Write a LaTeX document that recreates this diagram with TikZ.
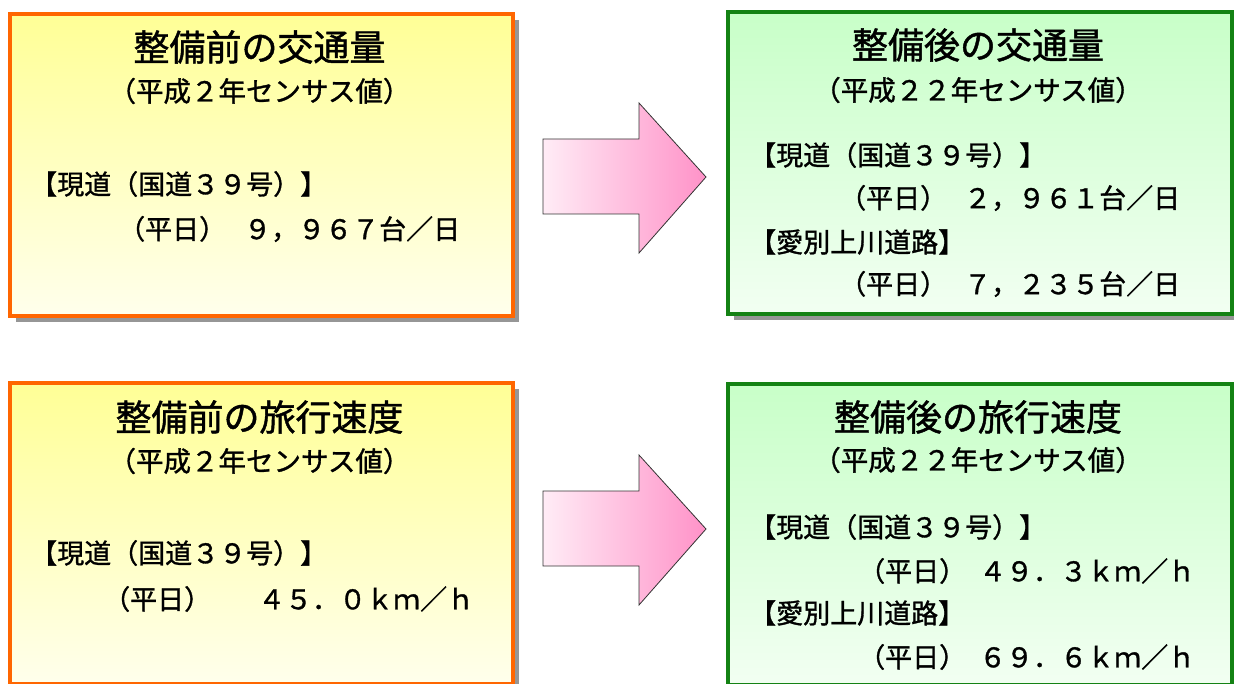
\documentclass[tikz,border=0pt]{standalone}
\usepackage{fontspec}
\setmainfont{Noto Sans CJK JP}[BoldFont=Noto Sans CJK JP, BoldFeatures={FakeBold=1.2}]
\usetikzlibrary{shadows}
\definecolor{borange}{RGB}{255,102,0}
\definecolor{bgreen}{RGB}{20,130,20}
\definecolor{yelltop}{RGB}{255,255,150}
\definecolor{yellbot}{RGB}{255,255,236}
\definecolor{greentop}{RGB}{200,255,200}
\definecolor{greenbot}{RGB}{242,255,242}
\definecolor{pinkL}{RGB}{255,236,246}
\definecolor{pinkR}{RGB}{255,146,200}
\definecolor{shadowgray}{RGB}{150,150,150}
\begin{document}
\begin{tikzpicture}[x=1pt,y=-1pt,
  box/.style={rectangle, line width=4pt, inner sep=0pt, anchor=north west,
    drop shadow={shadow xshift=6pt, shadow yshift=-6pt, fill=shadowgray, opacity=1}},
  beforebox/.style={box, draw=borange, top color=yelltop, bottom color=yellbot},
  afterbox/.style={box, draw=bgreen, top color=greentop, bottom color=greenbot},
  title/.style={inner sep=0pt, anchor=center, font=\fontsize{36}{40}\selectfont\bfseries},
  subtitle/.style={inner sep=0pt, anchor=center, font=\fontsize{27.5}{32}\selectfont\bfseries},
  body/.style={inner sep=0pt, anchor=west, font=\fontsize{27}{32}\selectfont\bfseries},
  blockarrow/.style={draw=black!80, line width=0.8pt, line join=miter, left color=pinkL, right color=pinkR}]
\useasboundingbox (0,0) rectangle (1234,684);

% boxes
\node[beforebox, minimum width=503pt, minimum height=302pt] (b1) at (8,12) {};
\node[afterbox, minimum width=504pt, minimum height=302pt] (b2) at (726,10) {};
\node[beforebox, minimum width=503pt, minimum height=301pt] (b3) at (8,381) {};
\node[afterbox, minimum width=504pt, minimum height=301pt] (b4) at (726,382) {};

% arrows
\path[blockarrow] (543,139) -- (639,139) -- (639,103) -- (706,177) -- (639,253) -- (639,214) -- (543,214) -- cycle;
\path[blockarrow] (543,491) -- (639,491) -- (639,455) -- (706,529) -- (639,605) -- (639,566) -- (543,566) -- cycle;

% box 1
\node[title] (t1) at (259.5,47) {整備前の交通量};
\node[subtitle] (s1) at (259.5,91) {（平成２年センサス値）};
\node[body] (r1) at (30,184) {【現道（国道３９号）】};
\node[body] (v1) at (118,229) {（平日）\hspace{18pt}９，９６７台／日};

% box 2
\node[title] (t2) at (978,45) {整備後の交通量};
\node[subtitle] (s2) at (978,90) {（平成２２年センサス値）};
\node[body] (r2) at (749,155) {【現道（国道３９号）】};
\node[body] (v2) at (839,198) {（平日）\hspace{17pt}２，９６１台／日};
\node[body] (r2b) at (749,242) {【愛別上川道路】};
\node[body] (v2b) at (839,284) {（平日）\hspace{17pt}７，２３５台／日};

% box 3
\node[title] (t3) at (259.5,417) {整備前の旅行速度};
\node[subtitle] (s3) at (259.5,461) {（平成２年センサス値）};
\node[body] (r3) at (30,553) {【現道（国道３９号）】};
\node[body] (v3) at (103,599) {（平日）\hspace{47pt}４５．０ｋｍ／ｈ};

% box 4
\node[title] (t4) at (978,417) {整備後の旅行速度};
\node[subtitle] (s4) at (978,460) {（平成２２年センサス値）};
\node[body] (r4) at (749,527) {【現道（国道３９号）】};
\node[body] (v4) at (858,571) {（平日）\hspace{13pt}４９．３ｋｍ／ｈ};
\node[body] (r4b) at (749,613) {【愛別上川道路】};
\node[body] (v4b) at (858,657) {（平日）\hspace{13pt}６９．６ｋｍ／ｈ};
\end{tikzpicture}
\end{document}
